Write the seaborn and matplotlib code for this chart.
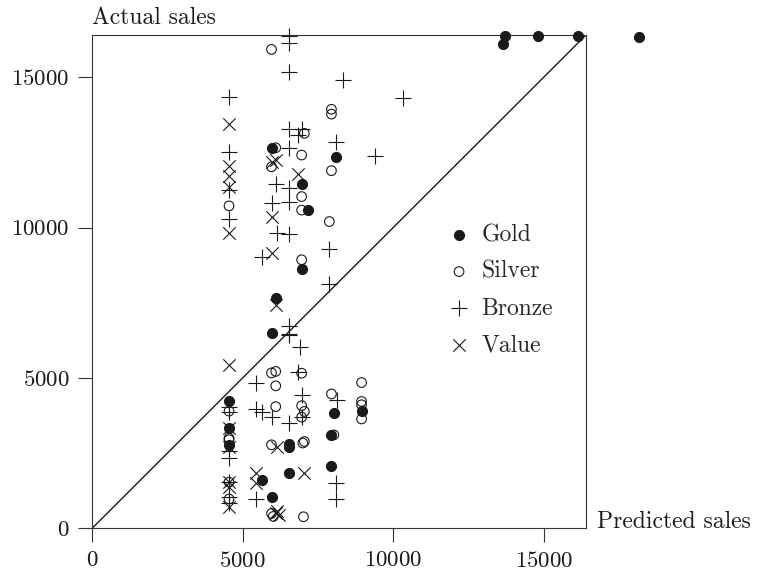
import pandas as pd
import seaborn as sns
import matplotlib.pyplot as plt

# predicted vs actual sales, one pair of lists per category
gold_pred = [13700, 13650, 14800, 16130, 18150, 5960, 8100, 6960, 7180, 6960, 6100,
             5960, 4550, 8030, 8950, 4550, 7950, 4550, 6540, 6540, 7950, 6540, 5630, 5960]
gold_act = [16380, 16100, 16380, 16380, 16330, 12650, 12350, 11450, 10580, 8630, 7670,
            6480, 4220, 3850, 3890, 3330, 3100, 2780, 2800, 2720, 2080, 1860, 1610, 1060]

silver_pred = [5960, 7950, 7950, 7050, 6100, 6960, 5960, 7950, 6960, 6960, 4550, 7880,
               6960, 5960, 6100, 6100, 6960, 8950, 7950, 8950, 8950, 8950, 6100, 6960,
               7050, 6960, 4550, 4550, 5960, 7050, 7000, 8030, 5960, 6020, 7020, 4550,
               4550, 4550]
silver_act = [15920, 13930, 13770, 13130, 12650, 12410, 12020, 11890, 11030, 10580, 10720,
              10200, 8930, 5170, 5220, 4740, 5160, 4850, 4470, 4220, 4110, 3640, 4050, 4080,
              3890, 3700, 3900, 3000, 2780, 2890, 2840, 3110, 500, 400, 390, 1540, 980, 2950]

bronze_pred = [6540, 6540, 6540, 8340, 10330, 4550, 6540, 6960, 6840, 6540, 8100, 9400,
               4550, 6100, 6540, 5960, 6540, 4550, 4550, 6130, 6540, 5630, 7880, 7880,
               6540, 6540, 6540, 6900, 6840, 5440, 6960, 8120, 5440, 5630, 5960, 6540,
               6960, 4550, 4550, 4550, 4550, 4550, 4550, 4550, 5440, 8100, 8100]
bronze_act = [16360, 16140, 15180, 14900, 14290, 14350, 13270, 13270, 13080, 12630, 12840,
              12380, 12500, 11450, 11300, 10820, 10860, 11250, 10300, 9830, 9790, 9030, 9280,
              8110, 6720, 6420, 6470, 6030, 5210, 4830, 4440, 4270, 3970, 3880, 3710, 3500,
              3720, 4050, 3880, 2560, 2340, 1560, 1060, 840, 980, 1520, 980]

value_pred = [4550, 4550, 4550, 4550, 4550, 6100, 5960, 6840, 5960, 5960, 6100, 4550,
              4550, 4550, 6130, 7030, 5450, 5450, 4550, 4550, 4550, 6100, 6200, 6150]
value_act = [13450, 12030, 11700, 11360, 9810, 12240, 12190, 11770, 10360, 9160, 7430, 5440,
             3330, 2700, 2720, 1840, 1840, 1510, 1390, 1540, 720, 510, 450, 580]

groups = ["Gold", "Silver", "Bronze", "Value"]
lim = 16400

sns.set_style("ticks")
plt.rcParams['font.family'] = ['cmr10', 'DejaVu Serif']
plt.rcParams['axes.formatter.use_mathtext'] = True

df = pd.concat([
    pd.DataFrame({"pred": gold_pred, "act": gold_act, "type": "Gold"}),
    pd.DataFrame({"pred": silver_pred, "act": silver_act, "type": "Silver"}),
    pd.DataFrame({"pred": bronze_pred, "act": bronze_act, "type": "Bronze"}),
    pd.DataFrame({"pred": value_pred, "act": value_act, "type": "Value"}),
])

ink = "#1a1a1a"
fig = plt.figure(figsize=(7.57, 5.76), dpi=100)
ax = fig.add_axes([0.1215, 0.0825, 0.6526, 0.8568])

styles = {
    "Gold": dict(marker="o", s=52, color=ink, edgecolor=ink, linewidth=0.8),
    "Silver": dict(marker="o", s=48, facecolor="none", edgecolor=ink, linewidth=0.8),
    "Bronze": dict(marker="+", s=140, color=ink, linewidth=0.8),
    "Value": dict(marker="x", s=80, color=ink, linewidth=0.8),
}
for g in groups:
    sub = df[df["type"] == g]
    sns.scatterplot(x=sub["pred"], y=sub["act"], ax=ax, label=g, clip_on=False,
                    zorder=3, **styles[g])

ax.axline((0, 0), slope=1, color=ink, linewidth=1.0, zorder=2)

ax.set_xlim(0, lim)
ax.set_ylim(0, lim)
ax.set_xticks([0, 5000, 10000, 15000])
ax.set_yticks([0, 5000, 10000, 15000])
ax.set_xlabel("")
ax.set_ylabel("")
ax.tick_params(labelsize=16.5, length=10, width=0.8, pad=6, color="#333333",
               labelcolor=ink)
for sp in ax.spines.values():
    sp.set_color("#333333")
    sp.set_linewidth(0.8)

ax.text(0, 1.013, "Actual sales", transform=ax.transAxes, fontsize=17,
        ha="left", va="bottom", color=ink)
ax.text(1.022, 0.0, "Predicted sales", transform=ax.transAxes, fontsize=17,
        ha="left", va="baseline", color=ink)

ax.legend(loc="center left", bbox_to_anchor=(0.70, 0.483), frameon=False,
          fontsize=17, handlelength=1.0, handletextpad=0.45, labelspacing=0.62,
          borderaxespad=0)

fig.savefig("out.png", dpi=100)
